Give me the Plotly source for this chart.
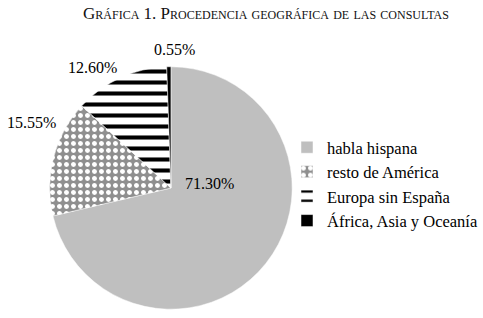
import plotly.graph_objects as go

labels = ["habla hispana", "resto de América", "Europa sin España", "África, Asia y Oceanía"]
values = [71.30, 15.55, 12.60, 0.55]
title_text = "Gráfica 1. Procedencia geográfica de las consultas"

colors = ["#BFBFBF", "#8F8F8F", "#FFFFFF", "#000000"]
shapes = ["", ".", "-", ""]
fgcolors = ["#BFBFBF", "#FFFFFF", "#000000", "#000000"]
sizes = [8, 7, 11, 8]
solid = [0.5, 0.4, 0.37, 0.5]

fig = go.Figure(go.Pie(
    labels=labels, values=values, sort=False, direction="clockwise", rotation=0,
    textinfo="none", hoverinfo="label+percent",
    marker=dict(colors=colors, line=dict(color="#FFFFFF", width=0.5),
                pattern=dict(shape=shapes, fgcolor=fgcolors, bgcolor=colors,
                             size=sizes, solidity=solid, fillmode="replace")),
    domain=dict(x=[50/483, 294/483], y=[1-310/318, 1-66/318]),
))

W, H = 483, 318
label_pos = [(211, 183), (32, 122), (93, 67), (176, 50)]
for v, (px, py) in zip(values, label_pos):
    fig.add_annotation(x=px/W, y=1-py/H, xref="paper", yref="paper",
                       xanchor="center", yanchor="middle",
                       text=f"{v:.2f}%", showarrow=False,
                       font=dict(family="Liberation Serif", size=16, color="#000"))

fig.update_layout(
    width=W, height=H, margin=dict(l=0, r=0, t=0, b=0),
    paper_bgcolor="white", plot_bgcolor="white",
    font=dict(family="Liberation Serif", color="#000"),
    title=dict(text=title_text, x=266/W, xanchor="center", y=1-13/H, yanchor="middle",
               font=dict(family="Liberation Serif", size=17, color="#111", variant="small-caps")),
    legend=dict(x=289/W, y=1-130/H, xanchor="left", yanchor="top",
                font=dict(family="Liberation Serif", size=16.5, color="#000"),
                itemwidth=30, tracegroupgap=0, bgcolor="rgba(0,0,0,0)"),
)

fig.write_html("out.html", config={"displayModeBar": False},
               post_script="document.body.style.margin='0';")
